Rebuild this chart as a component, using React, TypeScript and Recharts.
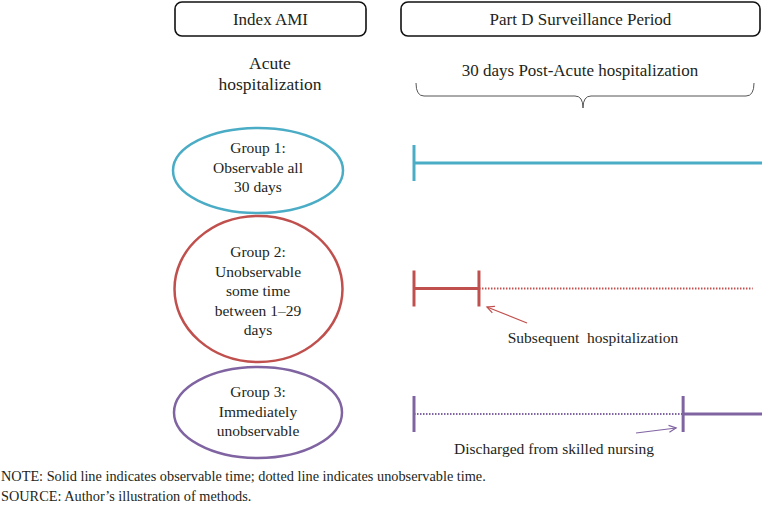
import { Customized, Line, LineChart, XAxis, YAxis } from "recharts";

// surveillance window, in days after discharge from the index stay
const windowDays = [0, 30];
const groupRows = [1, 2, 3];

// group 1: observable for the whole window
const group1Observed = [
  { day: 0, row: 1, tick: true },
  { day: 30, row: 1 },
];

// group 2: observable until a later hospitalization, then not
const group2Observed = [
  { day: 0, row: 2, tick: true },
  { day: 5.6, row: 2, tick: true },
];
const group2Unobserved = [
  { day: 5.6, row: 2 },
  { day: 29.2, row: 2 },
];

// group 3: in skilled nursing first, observable after discharge
const group3Unobserved = [
  { day: 0, row: 3, tick: true },
  { day: 23.2, row: 3 },
];
const group3Observed = [
  { day: 23.2, row: 3, tick: true },
  { day: 30, row: 3 },
];

const groupLabels = [
  ["Group 1:", "Observable all", "30 days"],
  ["Group 2:", "Unobservable", "some time", "between 1\u201329", "days"],
  ["Group 3:", "Immediately", "unobservable"],
];

const headers = ["Index AMI", "Part D Surveillance Period"];
const subHeaders = [["Acute", "hospitalization"], ["30 days Post-Acute hospitalization"]];
const eventLabels = ["Subsequent  hospitalization", "Discharged from skilled nursing"];
const footnotes = [
  "NOTE: Solid line indicates observable time; dotted line indicates unobservable time.",
  "SOURCE: Author\u2019s illustration of methods.",
];

const W = 762;
const H = 512;
const LEFT = 414;
const TOP = 163;
const BOTTOM = 98;
const FONT = "'Liberation Serif', 'Times New Roman', serif";
const BLUE = "#4bacc6";
const RED = "#c0504d";
const PURPLE = "#8064a2";
const TEXT = "#231f20";

const dayX = (d: number) => LEFT + (d / windowDays[1]) * (W - LEFT);

const tickDot = (color: string) => (props: any) => {
  const { cx, cy, payload, index } = props;
  if (!payload || !payload.tick) return <g key={`n${index}`} />;
  return (
    <line
      key={`t${index}`}
      x1={cx}
      x2={cx}
      y1={cy - 18}
      y2={cy + 18}
      stroke={color}
      strokeWidth={3}
    />
  );
};

const Arrow = ({ x1, y1, x2, y2, color }: any) => {
  const a = Math.atan2(y2 - y1, x2 - x1);
  const len = 8;
  const spread = 0.45;
  const p1 = [x2 - len * Math.cos(a - spread), y2 - len * Math.sin(a - spread)];
  const p2 = [x2 - len * Math.cos(a + spread), y2 - len * Math.sin(a + spread)];
  return (
    <g stroke={color} strokeWidth={1.2} fill="none">
      <line x1={x1} y1={y1} x2={x2} y2={y2} />
      <polyline points={`${p1[0]},${p1[1]} ${x2},${y2} ${p2[0]},${p2[1]}`} />
    </g>
  );
};

const ellipses = [
  { cx: 258, cy: 170.5, rx: 85, ry: 42.5, color: BLUE, y0: 153 },
  { cx: 258.5, cy: 289, rx: 84, ry: 73, color: RED, y0: 257 },
  { cx: 258, cy: 412.5, rx: 84, ry: 45.5, color: PURPLE, y0: 397 },
];

const Decor = () => (
  <g fontFamily={FONT} fill={TEXT}>
    <rect x={175} y={2} width={191} height={34} rx={7} fill="none" stroke="#111" strokeWidth={1.6} />
    <rect x={401} y={2} width={359} height={34} rx={7} fill="none" stroke="#111" strokeWidth={1.6} />
    <text x={270.5} y={25} fontSize={17} textAnchor="middle">{headers[0]}</text>
    <text x={580.5} y={25} fontSize={17} textAnchor="middle">{headers[1]}</text>
    {subHeaders[0].map((s, i) => (
      <text key={s} x={270} y={69 + i * 21} fontSize={17.5} textAnchor="middle">{s}</text>
    ))}
    <text x={580} y={76} fontSize={17} textAnchor="middle">{subHeaders[1][0]}</text>
    <path
      d="M416,83 Q416,96 424,96 L575,96 Q583,96 583,108 Q583,96 591,96 L746,96 Q754,96 754,83"
      fill="none"
      stroke="#555"
      strokeWidth={1}
    />
    {ellipses.map((e, gi) => (
      <g key={gi}>
        <ellipse cx={e.cx} cy={e.cy} rx={e.rx} ry={e.ry} fill="none" stroke={e.color} strokeWidth={2.5} />
        {groupLabels[gi].map((l, li) => (
          <text key={li} x={258} y={e.y0 + li * 19.6} fontSize={15.5} textAnchor="middle">{l}</text>
        ))}
      </g>
    ))}
    <Arrow x1={527} y1={323} x2={dayX(5.6) + 8} y2={307} color={RED} />
    <text x={593} y={343} fontSize={15.5} textAnchor="middle" style={{ whiteSpace: "pre" }}>{eventLabels[0]}</text>
    <Arrow x1={636} y1={433} x2={dayX(23.2) - 7} y2={428} color={PURPLE} />
    <text x={554} y={454} fontSize={15.5} textAnchor="middle">{eventLabels[1]}</text>
    {footnotes.map((f, i) => (
      <text key={i} x={1} y={481 + i * 20} fontSize={14.3}>{f}</text>
    ))}
  </g>
);

export default function App() {
  return (
    <div style={{ width: W, height: H, background: "#fff" }}>
      <style>{`body{margin:0;}`}</style>
      <LineChart
        width={W}
        height={H}
        margin={{ top: TOP, right: 0, bottom: BOTTOM, left: LEFT }}
      >
        <XAxis type="number" dataKey="day" domain={windowDays} hide />
        <YAxis type="number" dataKey="row" domain={[groupRows[0], groupRows[2]]} reversed hide />
        <Customized component={Decor} />
        <Line data={group2Unobserved} dataKey="row" stroke={RED} strokeWidth={2} strokeDasharray="1.5 1.5" dot={false} isAnimationActive={false} />
        <Line data={group3Unobserved} dataKey="row" stroke={PURPLE} strokeWidth={2} strokeDasharray="1.5 1.5" dot={tickDot(PURPLE)} isAnimationActive={false} />
        <Line data={group1Observed} dataKey="row" stroke={BLUE} strokeWidth={3} dot={tickDot(BLUE)} isAnimationActive={false} />
        <Line data={group2Observed} dataKey="row" stroke={RED} strokeWidth={3} dot={tickDot(RED)} isAnimationActive={false} />
        <Line data={group3Observed} dataKey="row" stroke={PURPLE} strokeWidth={3} dot={tickDot(PURPLE)} isAnimationActive={false} />
      </LineChart>
    </div>
  );
}
